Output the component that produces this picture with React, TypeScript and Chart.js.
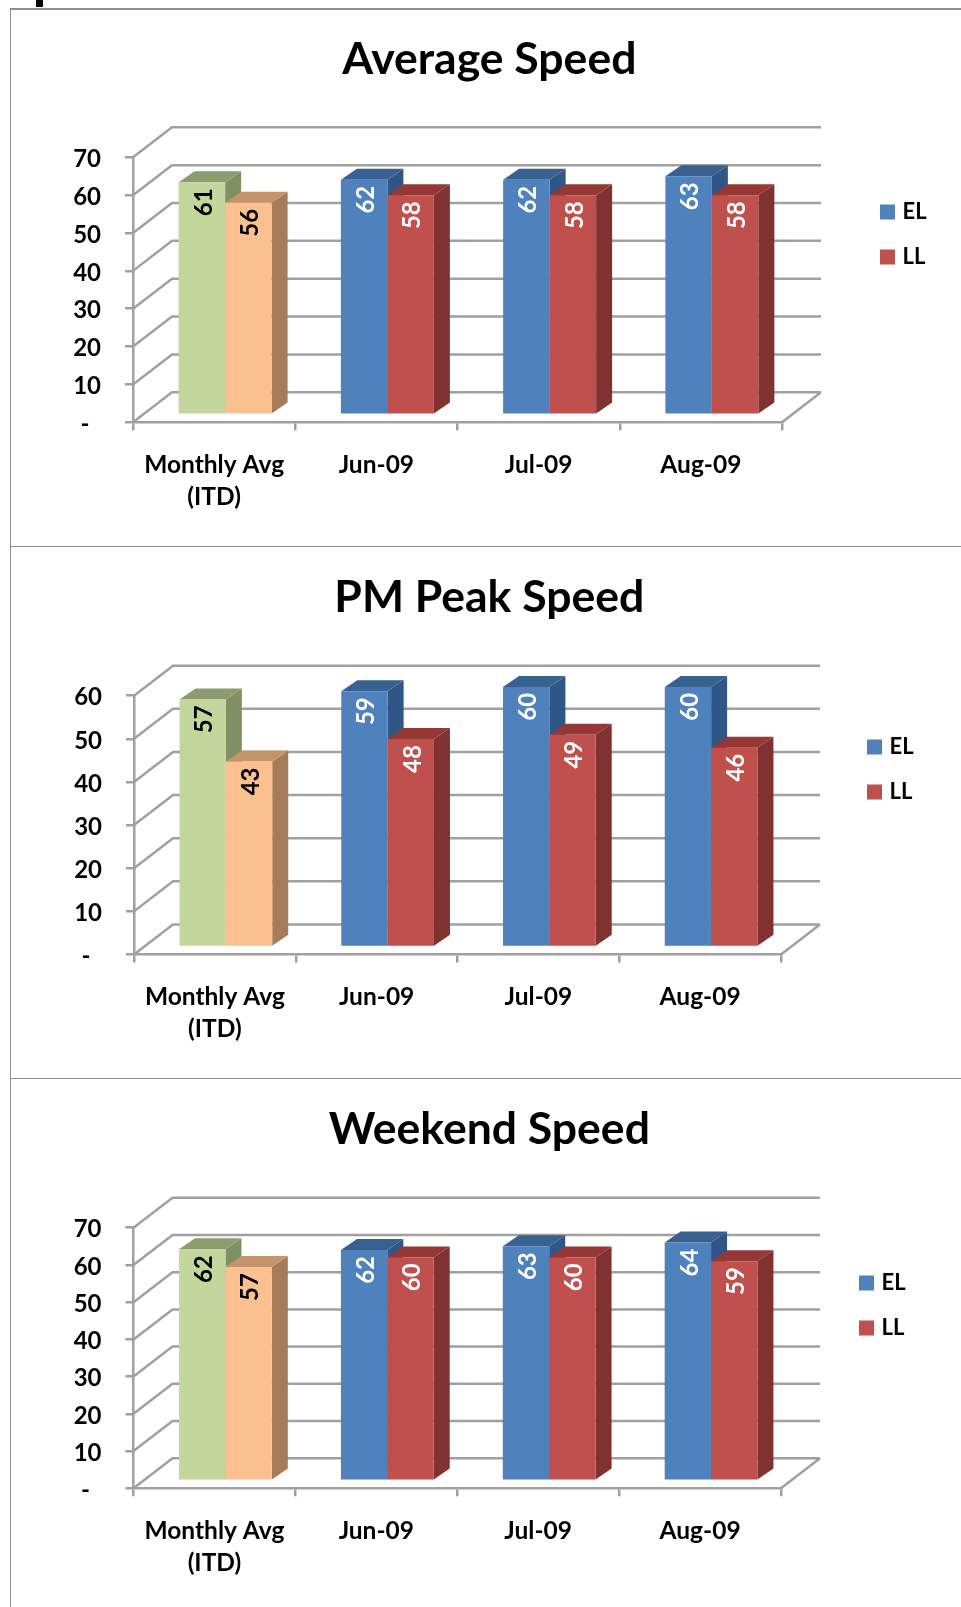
import React, { useEffect, useRef } from "react";
import { Chart, registerables } from "chart.js";

Chart.register(...registerables);

const categories = [["Monthly Avg", "(ITD)"], "Jun-09", "Jul-09", "Aug-09"];
const seriesNames = ["EL", "LL"];

const avgEL = [61.4, 62.1, 62.1, 63];
const avgLL = [56, 58, 58, 58];
const pmEL = [57.4, 59.3, 60.3, 60.3];
const pmLL = [43, 48.2, 49.2, 46.2];
const weekendEL = [62.2, 62, 63, 64];
const weekendLL = [57.4, 60, 60, 59];

const FONT = "Lato, 'Open Sans', sans-serif";
const GRID = "#a0a0a0";
const BORDER = "#8f8f8f";
const EL_COLORS = ["#c3d69b", "#4f81bd", "#4f81bd", "#4f81bd"];
const LL_COLORS = ["#fac08f", "#c0504d", "#c0504d", "#c0504d"];
const EL_TOP = ["#8c9c6e", "#386090", "#386090", "#386090"];
const EL_SIDE = ["#7f9065", "#2f5687", "#2f5687", "#2f5687"];
const LL_TOP = ["#c4946a", "#953735", "#953735", "#953735"];
const LL_SIDE = ["#a67c58", "#7f3230", "#7f3230", "#7f3230"];

type Panel = {
  title: string; el: number[]; ll: number[]; max: number;
  top: number; height: number; left: number; right: number; plotTop: number; plotBottom: number;
  titleY: number; legendX: number; legendY: number;
};

const panels: Panel[] = [
  { title: "Average Speed", el: avgEL, ll: avgLL, max: 70, top: 8, height: 538, left: 133, right: 782, plotTop: 157.3, plotBottom: 422.3, titleY: 60, legendX: 880, legendY: 212 },
  { title: "PM Peak Speed", el: pmEL, ll: pmLL, max: 60, top: 546, height: 532, left: 134, right: 781, plotTop: 695.7, plotBottom: 954.5, titleY: 598, legendX: 867, legendY: 747 },
  { title: "Weekend Speed", el: weekendEL, ll: weekendLL, max: 70, top: 1078, height: 529, left: 133.5, right: 781, plotTop: 1227.7, plotBottom: 1488.3, titleY: 1130, legendX: 859, legendY: 1283 },
];

const CANVAS_LEFT = 11;
const CANVAS_W = 950;
const TITLE_CENTER = 489.3;
const DEPTH_X = 39;
const DEPTH_Y = 30;
const BAR_OFF_X = 11;
const BAR_OFF_Y = 7.5;
const BAR_DX = 16;
const BAR_DY = 11;
const LEGEND_PAD = 23;
const LEGEND_BOX = 8;
const LEGEND_STROKE = 7;

function poly(ctx: CanvasRenderingContext2D, pts: number[][], fill: string) {
  ctx.beginPath();
  pts.forEach((p, i) => (i ? ctx.lineTo(p[0], p[1]) : ctx.moveTo(p[0], p[1])));
  ctx.closePath();
  ctx.fillStyle = fill;
  ctx.fill();
}

function drawFaces(ctx: CanvasRenderingContext2D, meta: any, tops: string[], sides: string[]) {
  ctx.save();
  ctx.translate(BAR_OFF_X, -BAR_OFF_Y);
  meta.data.forEach((bar: any, i: number) => {
    const l = bar.x - bar.width / 2;
    const r = bar.x + bar.width / 2;
    const t = bar.y;
    const b = bar.base;
    poly(ctx, [[r, t], [r + BAR_DX, t - BAR_DY], [r + BAR_DX, b - BAR_DY], [r, b]], sides[i]);
    poly(ctx, [[l, t], [l + BAR_DX, t - BAR_DY], [r + BAR_DX, t - BAR_DY], [r, t]], tops[i]);
  });
  ctx.restore();
}

function make(canvas: HTMLCanvasElement, p: Panel) {
  const titleFont = 44.5;
  const titleLine = 54;
  const titleTop = p.titleY - p.top - titleLine / 2;
  const titleBottom = p.plotTop - p.top - titleTop - titleLine;
  const plugin = {
    id: "depth3d",
    afterLayout(chart: any) {
      const l = chart.legend;
      const w = l.right - l.left;
      const h = l.bottom - l.top;
      l.left = p.legendX - CANVAS_LEFT - LEGEND_PAD + LEGEND_STROKE / 2;
      l.right = l.left + w;
      l.top = p.legendY - p.top - 11 - LEGEND_PAD;
      l.bottom = l.top + h;
      const t = chart.titleBlock;
      t.left = 0;
      t.right = 2 * (TITLE_CENTER - CANVAS_LEFT);
    },
    beforeDatasetsDraw(chart: any) {
      const ctx = chart.ctx as CanvasRenderingContext2D;
      const y = chart.scales.y;
      const { left, right, bottom } = chart.chartArea;
      ctx.save();
      ctx.strokeStyle = GRID;
      ctx.lineWidth = 2.5;
      ctx.beginPath();
      y.ticks.forEach((t: any) => {
        const py = y.getPixelForValue(t.value);
        ctx.moveTo(left, py);
        ctx.lineTo(left + DEPTH_X, py - DEPTH_Y);
        ctx.lineTo(right + DEPTH_X, py - DEPTH_Y);
      });
      ctx.moveTo(right, bottom);
      ctx.lineTo(right + DEPTH_X, bottom - DEPTH_Y);
      ctx.stroke();
      ctx.restore();
      drawFaces(ctx, chart.getDatasetMeta(0), EL_TOP, EL_SIDE);
    },
    beforeDatasetDraw(chart: any, args: any) {
      const ctx = chart.ctx as CanvasRenderingContext2D;
      if (args.index === 1) drawFaces(ctx, args.meta, LL_TOP, LL_SIDE);
      ctx.save();
      ctx.translate(BAR_OFF_X, -BAR_OFF_Y);
    },
    afterDatasetDraw(chart: any) {
      chart.ctx.restore();
    },
    afterDatasetsDraw(chart: any) {
      const ctx = chart.ctx as CanvasRenderingContext2D;
      chart.data.datasets.forEach((ds: any, di: number) => {
        chart.getDatasetMeta(di).data.forEach((bar: any, i: number) => {
          ctx.save();
          ctx.translate(bar.x + BAR_OFF_X + 2, bar.y - BAR_OFF_Y + 6);
          ctx.rotate(-Math.PI / 2);
          ctx.font = `bold 24px ${FONT}`;
          ctx.textAlign = "right";
          ctx.textBaseline = "middle";
          ctx.fillStyle = i === 0 ? "#000000" : "#ffffff";
          ctx.fillText(String(Math.round(ds.data[i])), 0, 0);
          ctx.restore();
        });
      });
    },
  };

  return new Chart(canvas, {
    type: "bar",
    data: {
      labels: categories,
      datasets: [
        { label: seriesNames[0], data: p.el, backgroundColor: EL_COLORS, clip: false },
        { label: seriesNames[1], data: p.ll, backgroundColor: LL_COLORS, clip: false },
      ] as any,
    },
    plugins: [plugin],
    options: {
      responsive: false,
      animation: false,
      layout: {
        autoPadding: false,
        padding: { left: 0, top: 0, bottom: 0, right: CANVAS_W - (p.right - CANVAS_LEFT) },
      },
      datasets: { bar: { categoryPercentage: 0.573, barPercentage: 1 } },
      plugins: {
        tooltip: { enabled: false },
        title: {
          display: true,
          text: p.title,
          color: "#000000",
          font: { family: FONT, size: titleFont, weight: "bold", lineHeight: titleLine / titleFont },
          padding: { top: titleTop, bottom: titleBottom },
        },
        legend: {
          position: "chartArea",
          align: "start",
          labels: {
            font: { family: FONT, size: 22, weight: "bold" },
            color: "#000000",
            boxWidth: LEGEND_BOX,
            boxHeight: LEGEND_BOX,
            padding: LEGEND_PAD,
            generateLabels: () => [
              { text: seriesNames[0], fillStyle: "#4f81bd", strokeStyle: "#4f81bd", lineWidth: LEGEND_STROKE, hidden: false, datasetIndex: 0 },
              { text: seriesNames[1], fillStyle: "#c0504d", strokeStyle: "#c0504d", lineWidth: LEGEND_STROKE, hidden: false, datasetIndex: 1 },
            ],
          },
        },
      },
      scales: {
        x: {
          afterFit: (s: any) => { s.height = p.height - (p.plotBottom - p.top); },
          grid: { drawOnChartArea: false, drawTicks: true, tickLength: 8, color: GRID, lineWidth: 2.5 },
          border: { display: true, color: GRID, width: 2.5 },
          ticks: {
            color: "#000000",
            padding: 19,
            maxRotation: 0,
            autoSkip: false,
            font: { family: FONT, size: 24.5, weight: "bold", lineHeight: 1.3 },
          },
        },
        y: {
          min: 0,
          max: p.max,
          afterFit: (s: any) => { s.width = p.left - CANVAS_LEFT; },
          grid: { drawOnChartArea: false, drawTicks: true, tickLength: 8, color: GRID, lineWidth: 2.5 },
          border: { display: true, color: GRID, width: 2.5 },
          ticks: {
            stepSize: 10,
            color: "#000000",
            padding: 24,
            labelOffset: 2,
            font: { family: FONT, size: 24, weight: "bold" },
            callback: (v: any) => (v === 0 ? "-  " : String(v)),
          },
        },
      },
    } as any,
  });
}

function SpeedChart({ panel }: { panel: Panel }) {
  const ref = useRef<HTMLCanvasElement | null>(null);
  useEffect(() => {
    const chart = make(ref.current as HTMLCanvasElement, panel);
    return () => chart.destroy();
  }, [panel]);
  return (
    <canvas
      ref={ref}
      width={CANVAS_W}
      height={panel.height}
      style={{ position: "absolute", left: CANVAS_LEFT, top: panel.top, width: CANVAS_W, height: panel.height }}
    />
  );
}

export default function App() {
  const line = { position: "absolute" as const, background: BORDER };
  return (
    <div style={{ position: "absolute", left: 0, top: 0, width: 961, height: 1607, overflow: "hidden", background: "#fff" }}>
      <div style={{ position: "absolute", left: 36, top: 0, width: 7, height: 7, background: "#000" }} />
      <div style={{ ...line, left: 10, top: 8, width: 951, height: 1.5 }} />
      <div style={{ ...line, left: 9.5, top: 8, width: 1.5, height: 1599 }} />
      {panels.map((p) => (
        <SpeedChart key={p.title} panel={p} />
      ))}
      <div style={{ ...line, left: 10, top: 545.5, width: 951, height: 1.5 }} />
      <div style={{ ...line, left: 10, top: 1077.5, width: 951, height: 1.5 }} />
    </div>
  );
}
